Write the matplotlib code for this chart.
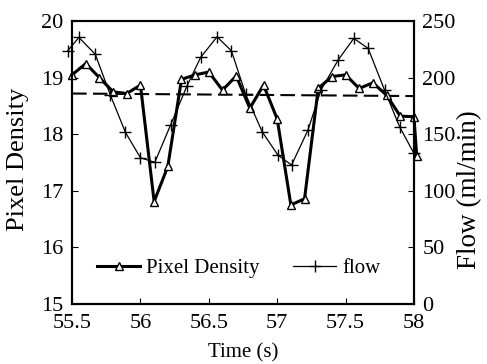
import numpy as np
import matplotlib
matplotlib.use("Agg")
import matplotlib.pyplot as plt

plt.rcParams['font.family'] = ['Liberation Serif', 'DejaVu Serif']

# Pixel density samples (left axis)
pd_time = [55.5, 55.6, 55.7, 55.8, 55.9, 56.0, 56.1, 56.2, 56.3, 56.4,
           56.5, 56.6, 56.7, 56.8, 56.9, 57.0, 57.1, 57.2, 57.3, 57.4,
           57.5, 57.6, 57.7, 57.8, 57.9, 58.0, 58.02]
pd_vals = [19.05, 19.25, 19.00, 18.75, 18.72, 18.87, 16.81, 17.43, 18.97, 19.05,
           19.10, 18.78, 19.03, 18.46, 18.87, 18.27, 16.75, 16.86, 18.81, 19.02,
           19.05, 18.81, 18.91, 18.69, 18.32, 18.31, 17.62]

# Flow samples (right axis)
flow_time = [55.47, 55.55, 55.67, 55.78, 55.89, 56.00, 56.105, 56.22, 56.34, 56.44,
             56.56, 56.665, 56.77, 56.89, 57.005, 57.105, 57.225, 57.32, 57.445, 57.56,
             57.665, 57.785, 57.895, 58.0]
flow_vals = [224, 235.6, 220.6, 184.6, 151.7, 129.2, 125.2, 158.1, 192.6, 217.9,
             236.1, 223.8, 185.2, 152.2, 131.6, 122.8, 153.7, 189, 215.5, 234.7,
             225.9, 189, 156.6, 133.1]

# dashed trend line of pixel density
trend_time = [55.5, 58.0]
trend_vals = [18.72, 18.675]

fig = plt.figure(figsize=(4.87, 3.64), dpi=100)
ax = fig.add_axes([0.148, 0.165, 0.702, 0.777])
ax2 = ax.twinx()

l1, = ax.plot(pd_time, pd_vals, '-', color='black', lw=2.2, marker='^',
              ms=6, mfc='white', mec='black', mew=1.0, clip_on=False,
              label='Pixel Density', zorder=3)
ax.plot(trend_time, trend_vals, '--', color='black', lw=1.5, dashes=(7, 3))
l2, = ax2.plot(flow_time, flow_vals, '-', color='black', lw=0.9, marker='+',
               ms=9, mew=1.0, clip_on=False, label='flow')

ax.set_xlim(55.5, 58)
ax.set_ylim(15, 20)
ax2.set_ylim(0, 250)
ax.set_xticks([55.5, 56, 56.5, 57, 57.5, 58])
ax.set_xticklabels(['55.5', '56', '56.5', '57', '57.5', '58'])
ax.set_yticks([15, 16, 17, 18, 19, 20])
ax2.set_yticks([0, 50, 100, 150, 200, 250])

ax.tick_params(axis='x', direction='in', length=4, width=0.8, labelsize=16, pad=7)
ax.tick_params(axis='y', direction='in', length=4, width=0.8, labelsize=16, pad=6)
ax2.tick_params(direction='in', length=4, width=0.8, labelsize=16, pad=6)

for a in (ax, ax2):
    for s in a.spines.values():
        s.set_linewidth(1.5)

ax.set_xlabel('Time (s)', fontsize=15)
ax.xaxis.set_label_coords(0.5, -0.14)
ax.set_ylabel('Pixel Density', fontsize=19)
ax.yaxis.set_label_coords(-0.126, 0.51)
ax2.set_ylabel('Flow (ml/min)', fontsize=19.5)
ax2.yaxis.set_label_coords(1.126, 0.403)

ax2.legend([l1, l2], ['Pixel Density', 'flow'], ncol=2, frameon=False,
           loc='center', bbox_to_anchor=(0.488, 0.127), fontsize=15,
           handlelength=2.05, columnspacing=1.6, handletextpad=0.3,
           borderaxespad=0)

fig.savefig('out.png', dpi=100)
